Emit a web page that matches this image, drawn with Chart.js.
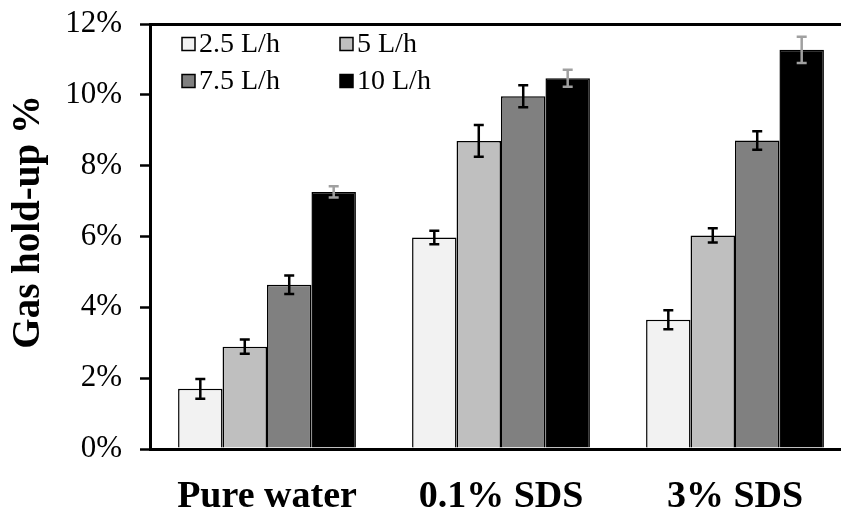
<!DOCTYPE html>
<html>
<head>
<meta charset="utf-8">
<script src="https://cdn.jsdelivr.net/npm/chart.js@4"></script>
<style>
  body { margin: 0; background: #fff; overflow: hidden; }
  #wrap { position: absolute; left: 0; top: 0; width: 852px; height: 512px; }
</style>
</head>
<body>
<div id="wrap"><canvas id="holdupChart"></canvas></div>
<script>
// Data (gas hold-up, %)
const categories = ['Pure water', '0.1% SDS', '3% SDS'];
const seriesLabels = ['2.5 L/h', '5 L/h', '7.5 L/h', '10 L/h'];
const flow25 = [1.70, 5.97, 3.65];
const flow5 = [2.89, 8.70, 6.03];
const flow75 = [4.64, 9.96, 8.71];
const flow10 = [7.26, 10.47, 11.27];
const err25 = [0.28, 0.19, 0.27];
const err5 = [0.20, 0.45, 0.20];
const err75 = [0.26, 0.31, 0.26];
const err10 = [0.16, 0.24, 0.37];
const yTicks = [0, 2, 4, 6, 8, 10, 12];

const barColors = ['#f2f2f2', '#bfbfbf', '#808080', '#000000'];
const errColors = ['#000000', '#000000', '#000000', '#a0a0a0'];
const values = [flow25, flow5, flow75, flow10];
const errors = [err25, err5, err75, err10];

const serif = "'Liberation Serif', 'Times New Roman', serif";

// error bars drawn from the bar elements
const errorBars = {
    id: 'errorBars',
    afterDatasetsDraw(chart) {
        const ctx = chart.ctx;
        const y = chart.scales.y;
        chart.data.datasets.forEach((ds, i) => {
            const meta = chart.getDatasetMeta(i);
            meta.data.forEach((bar, j) => {
                const v = ds.data[j], e = errors[i][j];
                const top = y.getPixelForValue(v + e);
                const bot = y.getPixelForValue(v - e);
                ctx.save();
                ctx.strokeStyle = errColors[i];
                ctx.lineWidth = 2.5;
                ctx.beginPath();
                ctx.moveTo(bar.x, top); ctx.lineTo(bar.x, bot);
                ctx.moveTo(bar.x - 5, top); ctx.lineTo(bar.x + 5, top);
                ctx.moveTo(bar.x - 5, bot); ctx.lineTo(bar.x + 5, bot);
                ctx.stroke();
                ctx.restore();
            });
        });
    }
};

// two-column legend inside the plot area
const boxLegend = {
    id: 'boxLegend',
    afterDraw(chart) {
        const ctx = chart.ctx;
        const spots = [[182, 44], [340, 44], [182, 81], [340, 81]];
        ctx.save();
        ctx.font = '28px ' + serif;
        ctx.textBaseline = 'middle';
        chart.data.datasets.forEach((ds, i) => {
            const [x, yc] = spots[i];
            ctx.fillStyle = ds.backgroundColor;
            ctx.fillRect(x, yc - 6.5, 13, 13);
            ctx.strokeStyle = '#000';
            ctx.lineWidth = 1.5;
            ctx.strokeRect(x, yc - 6.5, 13, 13);
            ctx.fillStyle = '#000';
            ctx.fillText(ds.label, x + 17, yc + 1);
        });
        ctx.restore();
    }
};

new Chart(document.getElementById('holdupChart'), {
    type: 'bar',
    data: {
        labels: categories,
        datasets: seriesLabels.map((label, i) => ({
            label: label,
            data: values[i],
            backgroundColor: barColors[i],
            borderColor: '#000000',
            borderWidth: 1.5,
            borderSkipped: 'bottom'
        }))
    },
    options: {
        responsive: true,
        maintainAspectRatio: false,
        animation: false,
        layout: { padding: { top: 24, right: 0, left: 0, bottom: 0 } },
        datasets: { bar: { categoryPercentage: 0.76, barPercentage: 1.0 } },
        plugins: {
            legend: { display: false },
            tooltip: { enabled: false }
        },
        scales: {
            x: {
                grid: { display: false, drawTicks: false },
                border: { display: true, color: '#000', width: 3 },
                ticks: {
                    color: '#000',
                    padding: 25,
                    font: { family: serif, size: 38, weight: 'bold' }
                },
                afterFit(scale) { scale.height = 63; }
            },
            y: {
                min: 0,
                max: 12,
                afterBuildTicks(scale) { scale.ticks = yTicks.map(v => ({ value: v })); },
                grid: {
                    drawOnChartArea: true,
                    color: ctx => ctx.tick && ctx.tick.value === 12 ? '#000' : 'rgba(0,0,0,0)',
                    lineWidth: 3,
                    tickColor: '#000',
                    tickWidth: 2.5,
                    tickLength: 10
                },
                border: { display: true, color: '#000', width: 3 },
                ticks: {
                    color: '#000',
                    padding: 18,
                    font: { family: serif, size: 31 },
                    callback: v => v + '%'
                },
                title: {
                    display: true,
                    text: '   Gas hold-up %',
                    color: '#000',
                    font: { family: serif, size: 39, weight: 'bold' },
                    padding: { top: 6, bottom: 0 }
                },
                afterFit(scale) {
                    scale.width = 150;
                    scale.paddingTop = 0;
                    scale.paddingBottom = 0;
                }
            }
        }
    },
    plugins: [errorBars, boxLegend]
});
</script>
</body>
</html>
